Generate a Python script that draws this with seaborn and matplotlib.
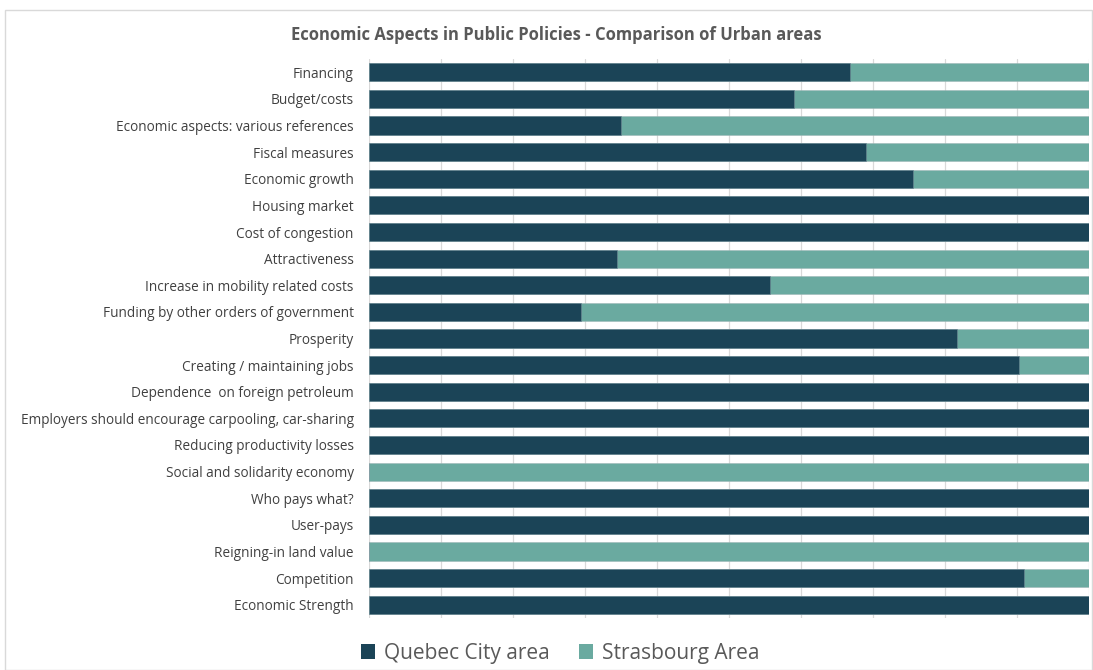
import matplotlib
matplotlib.use("Agg")
import matplotlib.pyplot as plt
import seaborn as sns
import pandas as pd
from matplotlib.patches import Patch, Rectangle

categories = [
    "Financing", "Budget/costs", "Economic aspects: various references",
    "Fiscal measures", "Economic growth", "Housing market", "Cost of congestion",
    "Attractiveness", "Increase in mobility related costs",
    "Funding by other orders of government", "Prosperity",
    "Creating / maintaining jobs", "Dependence  on foreign petroleum",
    "Employers should encourage carpooling, car-sharing",
    "Reducing productivity losses", "Social and solidarity economy",
    "Who pays what?", "User-pays", "Reigning-in land value", "Competition",
    "Economic Strength",
]
quebec = [66.8, 59.0, 35.0, 69.0, 75.5, 100, 100, 34.4, 55.7, 29.5, 81.7,
          90.3, 100, 100, 100, 0, 100, 100, 0, 91.0, 100]
strasbourg = [100 - q for q in quebec]
series_names = ["Quebec City area", "Strasbourg Area"]

DARK = "#1B4457"
TEAL = "#6AAAA0"

sns.set_theme(style="white")
plt.rcParams["font.family"] = ["Open Sans", "DejaVu Sans"]

df = pd.DataFrame({"cat": categories, "q": quebec,
                   "total": [a + b for a, b in zip(quebec, strasbourg)]})

fig = plt.figure(figsize=(10.93, 6.70), dpi=100)
ax = fig.add_axes([369 / 1093, 1 - 618 / 670, 720 / 1093, (618 - 59) / 670])

sns.barplot(data=df, y="cat", x="total", color=TEAL, orient="h", ax=ax,
            width=0.68, saturation=1, edgecolor="#9fb8b8", linewidth=0.4)
sns.barplot(data=df, y="cat", x="q", color=DARK, orient="h", ax=ax,
            width=0.68, saturation=1, edgecolor="#6f8a96", linewidth=0.4)

ax.set_xlim(0, 100)
ax.set_xticks(range(0, 101, 10))
ax.set_xticklabels([])
ax.tick_params(axis="x", length=0)
ax.tick_params(axis="y", length=0, pad=11, labelsize=9.8, labelcolor="#404040")
ax.grid(axis="x", color="#d9d9d9", linewidth=0.9)
ax.set_axisbelow(True)
for s in ax.spines.values():
    s.set_visible(False)
ax.set_xlabel("")
ax.set_ylabel("")

fig.text(556 / 1093, 1 - 35 / 670, "Economic Aspects in Public Policies - Comparison of Urban areas",
         ha="center", va="center", fontsize=12, fontweight="bold", color="#595959")

handles = [Patch(facecolor=DARK, edgecolor="none"), Patch(facecolor=TEAL, edgecolor="none")]
fig.legend(handles, series_names, loc="center", bbox_to_anchor=(560 / 1093, 1 - 653 / 670),
           ncol=2, frameon=False, fontsize=15, handlelength=0.7, handleheight=0.7,
           handletextpad=0.4, columnspacing=1.4, labelcolor="#595959")

fig.patches.append(Rectangle((5 / 1093, 0), 1 - 5 / 1093 - 0.001, 1 - 10 / 670,
                             transform=fig.transFigure, fill=False,
                             edgecolor="#d9d9d9", linewidth=1))

fig.savefig("out.png", dpi=100, facecolor="white")
